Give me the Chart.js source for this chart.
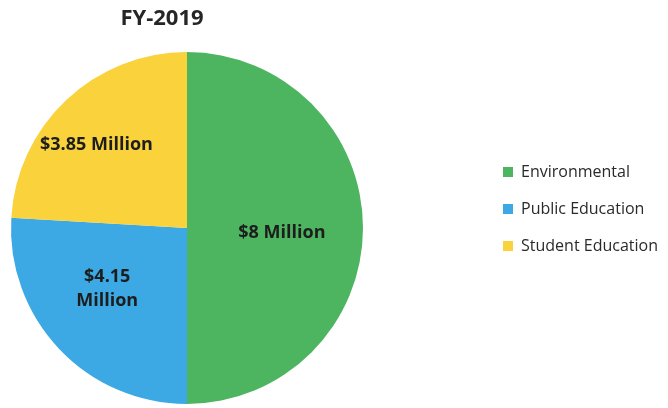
<!DOCTYPE html>
<html lang="en">
<head>
<meta charset="UTF-8">
<title>FY-2019</title>
<script src="https://cdn.jsdelivr.net/npm/chart.js"></script>
<style>
  html, body { margin: 0; padding: 0; background: #fff; }
  canvas { display: block; }
</style>
</head>
<body>
<canvas id="fyChart" width="668" height="408"></canvas>
<script>
const categories = ['Environmental', 'Public Education', 'Student Education'];
const amounts = [8, 4.15, 3.85];   // $ millions
const sliceText = [['$8 Million'], ['$4.15', 'Million'], ['$3.85 Million']];
const sliceColors = ['#4db560', '#3da9e4', '#f9d23c'];

// where each value label sits inside its slice (fraction of radius, nudge in degrees)
const labelSpots = [{r: 0.54, turn: 3}, {r: 0.57, turn: 6}, {r: 0.7, turn: -4}];
const legendPad = 21;

const sliceLabels = {
  id: 'sliceLabels',
  afterDatasetsDraw(chart) {
    const ctx = chart.ctx;
    const arcs = chart.getDatasetMeta(0).data;
    ctx.save();
    ctx.font = 'bold 18px "Open Sans"';
    ctx.fillStyle = '#1d1d1d';
    ctx.textAlign = 'center';
    ctx.textBaseline = 'middle';
    arcs.forEach((arc, i) => {
      const p = arc.getProps(['x', 'y', 'startAngle', 'endAngle', 'outerRadius'], true);
      const a = (p.startAngle + p.endAngle) / 2 + labelSpots[i].turn * Math.PI / 180;
      const d = p.outerRadius * labelSpots[i].r;
      const cx = p.x + Math.cos(a) * d;
      const cy = p.y + Math.sin(a) * d;
      const lines = sliceText[i];
      lines.forEach((t, k) => {
        ctx.fillText(t, cx, cy + (k - (lines.length - 1) / 2) * 24);
      });
    });
    ctx.restore();
  }
};

// pie sits left, title a bit left of the pie centre, legend far right
const placeBoxes = {
  id: 'placeBoxes',
  afterLayout(chart) {
    const area = chart.chartArea;
    area.right = area.left + (area.bottom - area.top);
    area.width = area.right - area.left;
    area.height = area.bottom - area.top;
    const lg = chart.legend;
    const dx = (503 - legendPad) - lg.left;
    lg.left += dx;
    lg.right += dx;
    lg.top += 3;
    lg.bottom += 3;
    const tb = chart.titleBlock;
    tb.left = 62;
    tb.right = 262;
  }
};

new Chart(document.getElementById('fyChart'), {
  type: 'pie',
  data: {
    labels: categories,
    datasets: [{
      data: amounts,
      backgroundColor: sliceColors,
      borderColor: sliceColors,
      borderWidth: 0
    }]
  },
  options: {
    responsive: false,
    animation: false,
    layout: { padding: { top: 8, left: 11, right: 10, bottom: 4 } },
    plugins: {
      title: {
        display: true,
        text: 'FY-2019',
        color: '#262626',
        font: { family: 'Open Sans', size: 22, weight: 'bold', lineHeight: 1 },
        padding: { top: 0, bottom: 22 }
      },
      legend: {
        position: 'right',
        labels: {
          boxWidth: 10,
          boxHeight: 10,
          padding: legendPad,
          color: '#2a2a2a',
          font: { family: 'Open Sans', size: 16 }
        }
      },
      tooltip: { enabled: false }
    }
  },
  plugins: [sliceLabels, placeBoxes]
});
</script>
</body>
</html>
